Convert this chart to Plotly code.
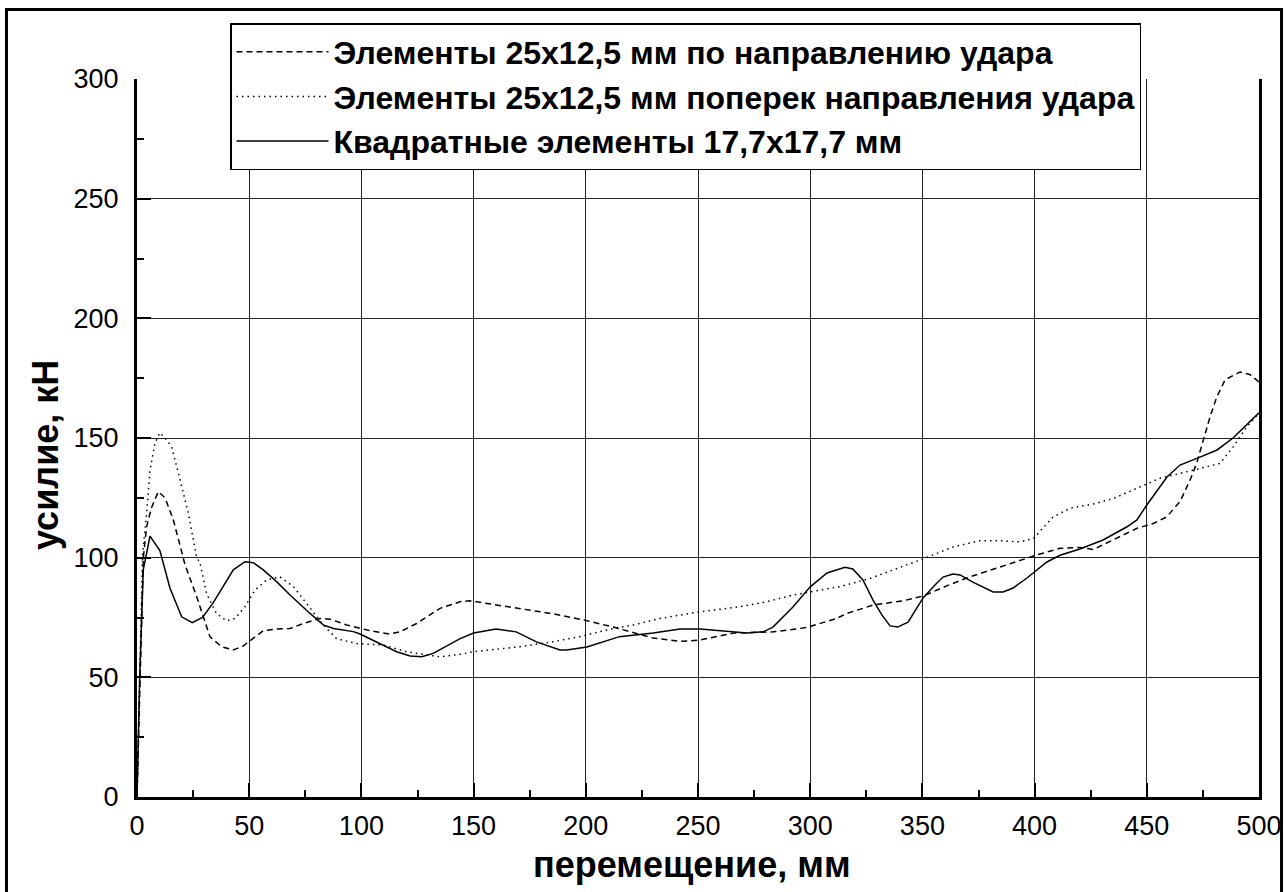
import plotly.graph_objects as go

# ---- data ----
dash_x = [0, 1.5, 2.8, 4.3, 6.5, 9.5, 12.5, 16.2, 21.4, 26.6, 32.5, 37.7, 42.9, 47.3, 51.8, 56.3, 62.2, 68.2, 74.1,
          81.6, 86, 93.4, 103.8, 112.7, 117.2, 124.6, 135, 144, 148.4, 155.8, 170.7, 185.6, 198.9, 212.3, 230, 242,
          250.9, 265.8, 283.5, 298.4, 311.8, 316.3, 328.1, 341.5, 350.4, 360.8, 371.2, 386, 400.9, 411.3, 420.2,
          426.1, 435, 445.5, 452.9, 458.8, 464.8, 469.3, 472.2, 475.2, 478.2, 481.2, 484.9, 491.5, 496, 500]
dash_y = [0, 60, 100, 113, 121, 127.6, 125, 115.8, 97, 83.7, 67, 62.8, 61.4, 63.1, 66.2, 69.5, 70.2, 70.4, 72.5,
          74.6, 74.3, 71.9, 69.5, 68.1, 69, 72.5, 78.8, 81.6, 82, 80.9, 78.4, 76.5, 74, 71, 66.4, 65,
          65.6, 68.5, 69, 70.8, 74.6, 76.7, 80.2, 82, 84, 88.2, 92, 96.5, 101.1, 103.9, 104.3,
          103.4, 107.4, 112.2, 114.3, 117, 123.4, 132.5, 139.4, 149.2, 158.9, 167.2, 174.3, 177.6, 176.5, 173.4]

dot_x = [0, 1.5, 2.5, 4.3, 5.8, 8, 10.2, 13.2, 15.4, 19.2, 22.9, 26.5, 28.1, 31, 35.4, 39.9, 43.7, 48.1, 52.6,
         57.8, 63.7, 69.7, 75.6, 83, 88.9, 97.9, 109.8, 120.1, 127.5, 135, 144, 149.9, 170.7, 185.5, 197.4, 209.3,
         221.2, 233.1, 250.9, 268.7, 280.6, 292.4, 304.4, 313.3, 326.6, 348.9, 363.8, 375.7, 384.6, 393.5, 399.5,
         408.3, 415.8, 426.1, 435.1, 445.5, 455.9, 464.8, 473.7, 482.6, 488.5, 494.5, 500]
dot_y = [0, 70, 101.8, 118.5, 136.6, 147.8, 152.2, 149.2, 146.4, 132.5, 118.5, 100.4, 97.6, 85, 76.7, 73.6, 74.6,
         79.5, 86.5, 90.7, 92, 87.9, 80.9, 71.9, 66.2, 64.1, 63.5, 60.7, 59.6, 58.6, 59.6, 60.7, 62.8, 64.9, 67,
         69.8, 71.9, 74.6, 77.4, 79.5, 81.6, 84.4, 86.5, 87.9, 91.3, 99, 104.5, 107.1, 107.1, 106.6, 108,
         117.1, 120.6, 122.4, 124.7, 128.9, 133.2, 135.2, 137.3, 139.4, 146.3, 154.6, 160.5]

sq_x = [0, 1.2, 2.8, 5.8, 10.2, 14.7, 19.9, 24.6, 29.2, 34, 42.9, 48.1, 51.8, 56.3, 62.2, 68.2, 77.1, 83, 87.5,
        96.4, 99.4, 109.8, 115.7, 121.7, 126.9, 132, 144, 150, 160, 169, 178, 188.5, 191.5, 200.5, 215, 230, 242,
        251, 271.8, 279, 283.4, 292.3, 300, 307.5, 315.5, 319, 323.5, 328, 332, 335.6, 339, 343.6, 350.3, 355.6,
        359.2, 363.6, 366.8, 372.5, 381.5, 386, 390.4, 396.6, 405.5, 411.3, 420.2, 430.5, 441, 445.6, 450, 459,
        464.8, 473.7, 481.3, 488.4, 494.6, 500]
sq_y = [0, 50, 94.9, 109, 103, 87.2, 75.3, 72.8, 75, 81.2, 94.9, 98.3, 97.9, 94.9, 90, 84.4, 76.7, 71.9, 70.4,
        69.1, 68.1, 63.5, 60.7, 58.9, 58.6, 60, 66.2, 68.5, 70.2, 69, 64.8, 61.4, 61.4, 62.7, 67, 68.5, 70.2,
        70.2, 68.5, 69, 71, 79.4, 87.8, 93.6, 96, 95.3, 90.7, 82.3, 76, 71.5, 71, 73.1, 83.2, 88.6,
        91.9, 93.2, 92.8, 89.8, 85.7, 85.7, 87.3, 91.5, 98.2, 101, 103.6, 107.4, 112.8, 115.8, 122, 133.7,
        138.7, 142, 145, 150, 155.5, 160.5]

names = ["Элементы 25x12,5 мм по направлению удара",
         "Элементы 25x12,5 мм поперек направления удара",
         "Квадратные элементы 17,7x17,7 мм"]
x_ticks = [0, 50, 100, 150, 200, 250, 300, 350, 400, 450, 500]
y_ticks = [0, 50, 100, 150, 200, 250, 300]
x_title = "перемещение, мм"
y_title = "усилие, кН"

W, H = 1286, 892
L, R, T, B = 137, 1259, 79, 797
pw, ph = R - L, B - T


def px(xp):
    return (xp - L) / pw


def py(yp):
    return (B - yp) / ph


FONT = "Liberation Sans, Arial, sans-serif"

fig = go.Figure()
fig.add_trace(go.Scatter(x=dash_x, y=dash_y, mode="lines", name=names[0],
                         line=dict(color="black", width=1.5, dash="6px,4px")))
fig.add_trace(go.Scatter(x=dot_x, y=dot_y, mode="lines", name=names[1],
                         line=dict(color="black", width=1.5, dash="1.5px,4px")))
fig.add_trace(go.Scatter(x=sq_x, y=sq_y, mode="lines", name=names[2],
                         line=dict(color="black", width=1.5)))

axis_font = dict(family=FONT, size=27, color="black")

fig.update_layout(
    width=W, height=H,
    margin=dict(l=L, r=W - R, t=T, b=H - B, autoexpand=False),
    paper_bgcolor="white", plot_bgcolor="white",
    showlegend=True,
    legend=dict(x=px(230), y=py(23), xanchor="left", yanchor="top",
                bgcolor="white", bordercolor="black", borderwidth=1.5,
                font=dict(family=FONT, size=32, color="black", weight="bold"),
                itemwidth=92, tracegroupgap=0),
    xaxis=dict(range=[0, 500], tickvals=x_ticks, ticktext=[str(v) for v in x_ticks],
               showline=True, linecolor="black", linewidth=3, mirror=False,
               ticks="inside", ticklen=14, tickwidth=2, tickcolor="black",
               showgrid=True, gridcolor="#222222", gridwidth=1, zeroline=False,
               minor=dict(dtick=25, tick0=0, ticks="inside", ticklen=7, tickwidth=2, tickcolor="black", showgrid=False),
               tickfont=axis_font, fixedrange=True, automargin=False, ticklabelstandoff=3),
    yaxis=dict(range=[0, 300], tickvals=y_ticks, ticktext=[str(v) for v in y_ticks],
               showline=True, linecolor="black", linewidth=3, mirror=True,
               ticks="inside", ticklen=14, tickwidth=2, tickcolor="black",
               showgrid=True, gridcolor="#222222", gridwidth=1, zeroline=False,
               minor=dict(dtick=25, tick0=0, ticks="inside", ticklen=7, tickwidth=2, tickcolor="black", showgrid=False),
               tickfont=axis_font, fixedrange=True, automargin=False, ticklabelstandoff=10),
    annotations=[
        dict(text=x_title, xref="paper", yref="paper", x=px(692), y=py(864),
             xanchor="center", yanchor="middle", showarrow=False,
             font=dict(family=FONT, size=36, color="black", weight="bold")),
        dict(text=y_title, xref="paper", yref="paper", x=px(45), y=py(455),
             xanchor="center", yanchor="middle", showarrow=False, textangle=-90,
             font=dict(family=FONT, size=36, color="black", weight="bold")),
    ],
    shapes=[
        dict(type="rect", xref="paper", yref="paper", x0=px(6.5), x1=px(1281.5), y0=py(905), y1=py(9.5),
             line=dict(color="black", width=3), fillcolor="rgba(0,0,0,0)", layer="above"),
    ],
)

fig.write_html("out.html")
